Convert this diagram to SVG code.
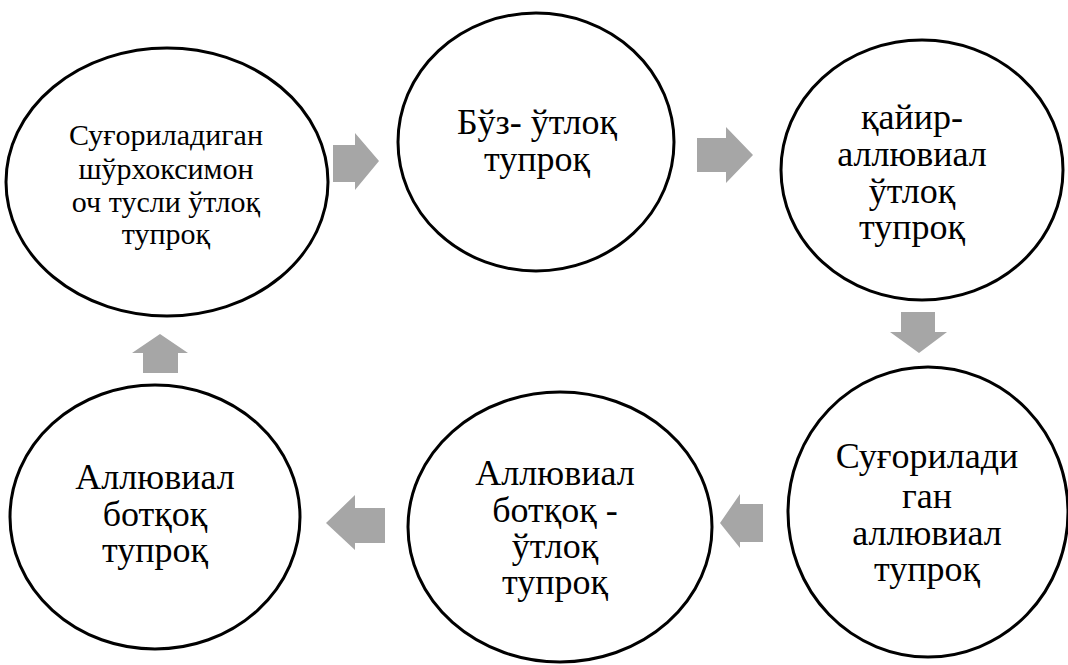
<svg xmlns="http://www.w3.org/2000/svg" width="1068" height="665" viewBox="0 0 1068 665">
<style>
.node ellipse{fill:#fff;stroke:#000;stroke-width:3}
.node text{font-family:"Liberation Serif","Times New Roman",serif;font-size:36px;fill:#000;text-anchor:middle}
.node text.small{font-size:30px}
.arrow{fill:#a6a6a6;stroke:none}
</style>
<rect width="1068" height="665" fill="#fff"/>
<g id="connectors">
<polygon class="arrow" points="333,145 355,145 355,133 379,161 355,190 355,182 333,182"/>
<polygon class="arrow" points="697,138 726,138 726,127 753,155 726,183 726,172 697,172"/>
<polygon class="arrow" points="901,312 935,312 935,332 947,332 919,353 890,332 901,332"/>
<polygon class="arrow" points="763,504 740,504 740,494 720,523 740,548 740,542 763,542"/>
<polygon class="arrow" points="385,508 355,508 355,495 326,523 355,550 355,543 385,543"/>
<polygon class="arrow" points="143,373 143,353 132,353 160,334 188,353 178,353 178,373"/>
</g>
<g id="node1" class="node">
<ellipse cx="167" cy="182" rx="161" ry="134"/>
<text class="small" x="166" y="145">Суғориладиган</text>
<text class="small" x="166" y="179">шўрхоксимон</text>
<text class="small" x="166" y="212">оч тусли ўтлоқ</text>
<text class="small" x="166" y="244">тупроқ</text>
</g>
<g id="node2" class="node">
<ellipse cx="536" cy="142" rx="138" ry="129"/>
<text x="537" y="134">Бўз- ўтлоқ</text>
<text x="537" y="171">тупроқ</text>
</g>
<g id="node3" class="node">
<ellipse cx="922" cy="170" rx="141" ry="130"/>
<text x="912" y="129">қайир-</text>
<text x="912" y="166">аллювиал</text>
<text x="912" y="203">ўтлоқ</text>
<text x="912" y="239">тупроқ</text>
</g>
<g id="node4" class="node">
<ellipse cx="928" cy="512" rx="140" ry="145"/>
<text x="927" y="468">Суғорилади</text>
<text x="927" y="508">ган</text>
<text x="927" y="545">аллювиал</text>
<text x="927" y="581">тупроқ</text>
</g>
<g id="node5" class="node">
<ellipse cx="560" cy="527" rx="152" ry="135"/>
<text x="555" y="485">Аллювиал</text>
<text x="555" y="522">ботқоқ -</text>
<text x="555" y="558">ўтлоқ</text>
<text x="555" y="594">тупроқ</text>
</g>
<g id="node6" class="node">
<ellipse cx="155" cy="517" rx="145" ry="132"/>
<text x="155" y="489">Аллювиал</text>
<text x="155" y="526">ботқоқ</text>
<text x="155" y="562">тупроқ</text>
</g>
</svg>
